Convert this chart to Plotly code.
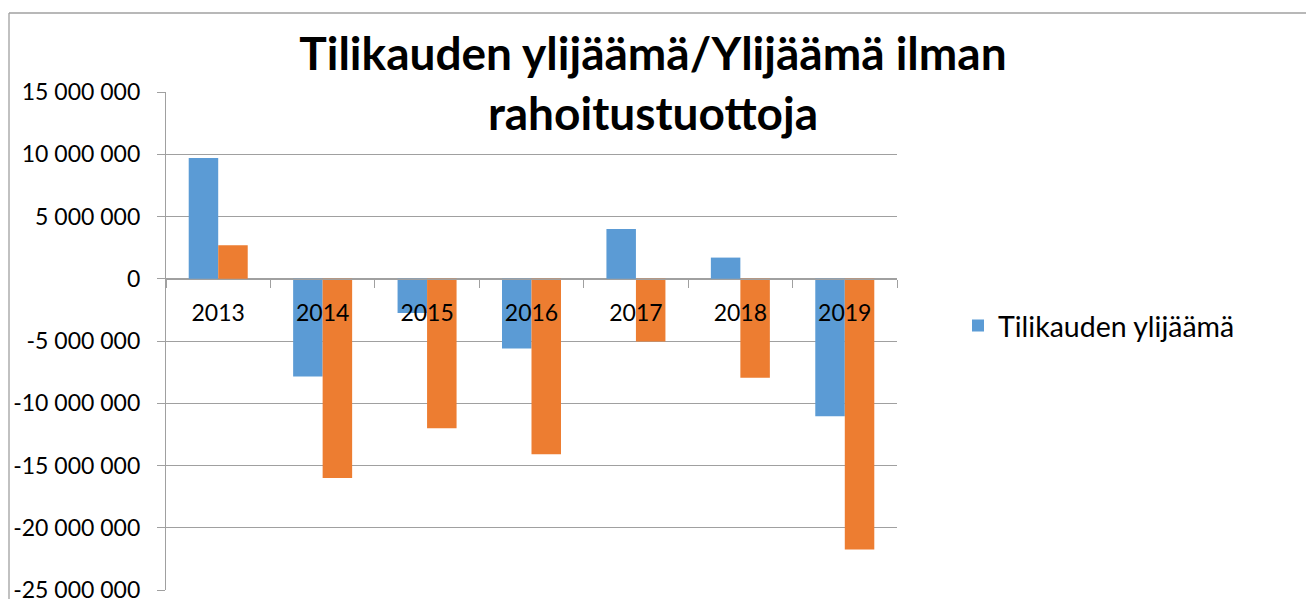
import plotly.graph_objects as go

years = ["2013", "2014", "2015", "2016", "2017", "2018", "2019"]
tilikauden_ylijaama = [9.7e6, -7.85e6, -2.75e6, -5.6e6, 4.0e6, 1.7e6, -11.05e6]
ylijaama_ilman_rahoitustuottoja = [2.7e6, -16.0e6, -12.0e6, -14.1e6, -5.05e6, -7.95e6, -21.75e6]
y_tick_vals = [15e6, 10e6, 5e6, 0, -5e6, -10e6, -15e6, -20e6, -25e6]
y_tick_text = ["15 000 000", "10 000 000", "5 000 000", "0", "-5 000 000",
               "-10 000 000", "-15 000 000", "-20 000 000", "-25 000 000"]

OFF = 8  # page body margin
PW, PH = 1314, 599
W, H = PW - OFF, PH - OFF
# plot area in page pixels
PL, PR, PT, PB = 166, 897, 92, 590
L, R, T, B = PL - OFF, PR - OFF, PT - OFF, PB - OFF
GRID = "#a0a0a0"
FONT = "Lato"

def px_x(px):
    return (px - PL) / (PR - PL)

def px_y(py):
    return (PB - py) / (PB - PT)

fig = go.Figure()
fig.add_trace(go.Bar(x=years, y=tilikauden_ylijaama, name="Tilikauden ylijäämä",
                     marker=dict(color="#5B9BD5", line=dict(width=0))))
fig.add_trace(go.Bar(x=years, y=ylijaama_ilman_rahoitustuottoja,
                     name="Ylijäämä ilman rahoitustuottoja", showlegend=False,
                     marker=dict(color="#ED7D31", line=dict(width=0))))

ymin, ymax = -25e6, 15e6
zero_pos = (0 - ymin) / (ymax - ymin)

fig.update_layout(
    width=W, height=H,
    margin=dict(l=L, r=W - R, t=T, b=H - B, pad=0, autoexpand=False),
    paper_bgcolor="white", plot_bgcolor="white",
    barmode="group", bargap=0.435, bargroupgap=0,
    font=dict(family=FONT, size=23, color="black"),
    title=dict(text="<b>Tilikauden ylijäämä/Ylijäämä ilman<br>rahoitustuottoja</b>",
               x=(653 - OFF) / W, xanchor="center", xref="container",
               y=1 - 62 / H, yanchor="top", yref="container",
               font=dict(family=FONT, size=46, color="black")),
    showlegend=True,
    legend=dict(x=px_x(958), y=px_y(326), xanchor="left", yanchor="middle",
                font=dict(family=FONT, size=28.5, color="black"),
                bgcolor="rgba(0,0,0,0)"),
    xaxis=dict(type="category", anchor="free", position=zero_pos, automargin=False,
               showline=True, linecolor=GRID, linewidth=1.3,
               ticks="outside", tickson="boundaries", ticklen=8, tickcolor=GRID,
               tickwidth=1.3, showgrid=False, ticklabelstandoff=13,
               tickfont=dict(family=FONT, size=23, color="black")),
    yaxis=dict(range=[ymin, ymax], tickvals=y_tick_vals, ticktext=y_tick_text,
               automargin=False,
               showline=True, linecolor=GRID, linewidth=1.3,
               ticks="outside", ticklen=8, tickcolor=GRID, tickwidth=1.3,
               showgrid=True, gridcolor=GRID, gridwidth=1.3, zeroline=False,
               ticklabelstandoff=12, ticklabeloverflow="allow",
               tickfont=dict(family=FONT, size=23, color="black")),
    shapes=[
        dict(type="line", xref="paper", yref="paper", x0=px_x(9), x1=px_x(PW + 20),
             y0=px_y(13), y1=px_y(13), line=dict(color=GRID, width=1.3)),
        dict(type="line", xref="paper", yref="paper", x0=px_x(9), x1=px_x(9),
             y0=px_y(13), y1=px_y(PH + 20), line=dict(color=GRID, width=1.3)),
    ],
)

fig.write_html("out.html")
